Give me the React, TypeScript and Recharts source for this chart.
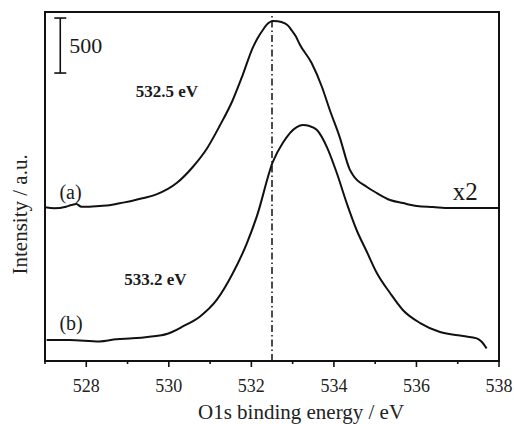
import React from "react";
import {
  LineChart,
  Line,
  XAxis,
  YAxis,
  ReferenceArea,
  ReferenceLine,
  ReferenceDot,
} from "recharts";

// O1s spectrum (a): binding energy (eV) and intensity (counts, offset)
const ENERGY_A = [
  527.0, 527.23, 527.51, 527.64, 527.76, 527.88, 528.08, 528.32, 528.56, 528.81,
  529.12, 529.36, 529.7, 530.19, 530.58, 530.92, 531.23, 531.55, 531.79, 532.03,
  532.15, 532.27, 532.4, 532.52, 532.64, 532.81, 532.9, 532.98, 533.08, 533.17,
  533.46, 533.71, 533.9, 534.14, 534.38, 534.46, 534.8, 535.04, 535.36, 535.67,
  536.01, 536.4, 536.81, 537.47, 537.98,
];
const INTENSITY_A = [
  1397, 1388, 1403, 1418, 1427, 1403, 1403, 1409, 1415, 1434,
  1457, 1479, 1515, 1618, 1764, 1930, 2136, 2373, 2600, 2845,
  2935, 3005, 3068, 3092, 3090, 3070, 3045, 3005, 2950, 2880,
  2709, 2491, 2282, 2036, 1745, 1691, 1582, 1527, 1464, 1436,
  1409, 1400, 1391, 1391, 1391,
];

// O1s spectrum (b)
const ENERGY_B = [
  527.04, 527.59, 528.32, 528.73, 529.12, 529.53, 529.95, 530.09, 530.33, 530.75,
  531.16, 531.55, 531.89, 532.13, 532.52, 532.76, 533.1, 533.25, 533.41, 533.59,
  533.83, 534.07, 534.31, 534.55, 534.8, 535.04, 535.36, 535.67, 536.09, 536.57,
  537.13, 537.46, 537.58, 537.7,
];
const INTENSITY_B = [
  191, 191, 178, 198, 206, 221, 245, 266, 312, 403,
  555, 797, 1070, 1312, 1810, 1982, 2127, 2145, 2136, 2100,
  1945, 1709, 1436, 1191, 991, 800, 618, 464, 345, 264,
  227, 206, 175, 115,
];

const X_TICKS = [527, 528, 529, 530, 531, 532, 533, 534, 535, 536, 537, 538];
const X_DOMAIN: [number, number] = [527, 538];
const Y_MAX = 3173;

// Peak position marked by the dash-dot line
const PEAK_A = 532.5;

// Intensity scale bar (500 counts)
const SCALE_BAR_X = 527.37;
const SCALE_BAR_FROM = 2618;
const SCALE_BAR_SIZE = 500;
const SCALE_CAP_HALF = 0.145;

// Text annotations: [text, energy, intensity, fontSize, bold]
const NOTES: [string, number, number, number, boolean][] = [
  ["500", 527.59, 2800, 22, false],
  ["532.5 eV", 529.2, 2400, 17, true],
  ["533.2 eV", 528.92, 691, 17, true],
  ["(a)", 527.35, 1475, 20, false],
  ["(b)", 527.35, 282, 20, false],
  ["x2", 536.88, 1464, 25, false],
];

const FONT = "'Liberation Serif', 'Times New Roman', serif";
const INK = "#111";

const seriesA = ENERGY_A.map((e, i) => ({ e, v: INTENSITY_A[i] }));
const seriesB = ENERGY_B.map((e, i) => ({ e, v: INTENSITY_B[i] }));

function Tick(props: any) {
  const { x, y, payload } = props;
  const major = payload.value % 2 === 0;
  return (
    <g>
      <line x1={x} x2={x} y1={y} y2={y + (major ? 6 : 3)} stroke={INK} strokeWidth={1.6} />
      {major && (
        <text x={x} y={y + 31} textAnchor="middle" fontFamily={FONT} fontSize={18} fill="#222">
          {payload.value}
        </text>
      )}
    </g>
  );
}

function XTitle(props: any) {
  const vb = props.viewBox;
  return (
    <text
      x={vb.x + vb.width * 0.564}
      y={vb.y + 58}
      textAnchor="middle"
      fontFamily={FONT}
      fontSize={21}
      fill="#222"
    >
      O1s binding energy / eV
    </text>
  );
}

function YTitle(props: any) {
  const vb = props.viewBox;
  const cx = 27;
  const cy = vb.y + vb.height * 0.58;
  return (
    <text
      x={cx}
      y={cy}
      transform={`rotate(-90 ${cx} ${cy})`}
      textAnchor="middle"
      fontFamily={FONT}
      fontSize={21}
      fill="#222"
    >
      Intensity / a.u.
    </text>
  );
}

function noteLabel(text: string, size: number, bold: boolean) {
  return (p: any) => {
    const vb = p.viewBox;
    return (
      <text
        x={vb.x}
        y={vb.y}
        fontFamily={FONT}
        fontSize={size}
        fontWeight={bold ? 700 : 400}
        fill="#1a1a1a"
      >
        {text}
      </text>
    );
  };
}

export default function App() {
  return (
    <div style={{ position: "absolute", left: 0, top: 0, background: "#fff" }}>
      <LineChart
        width={514}
        height={424}
        margin={{ top: 12, right: 15, bottom: 23, left: 0 }}
      >
        <XAxis
          type="number"
          dataKey="e"
          domain={X_DOMAIN}
          ticks={X_TICKS}
          interval={0}
          allowDataOverflow
          tickSize={0}
          tickMargin={0}
          axisLine={false}
          tickLine={false}
          height={40}
          tick={<Tick />}
          label={<XTitle />}
        />
        <YAxis
          type="number"
          domain={[0, Y_MAX]}
          allowDataOverflow
          width={45}
          tick={false}
          axisLine={false}
          tickLine={false}
          label={<YTitle />}
        />
        <ReferenceArea
          x1={X_DOMAIN[0]}
          x2={X_DOMAIN[1]}
          y1={0}
          y2={Y_MAX}
          fill="none"
          fillOpacity={0}
          stroke={INK}
          strokeWidth={2}
        />
        <ReferenceLine
          x={PEAK_A}
          stroke={INK}
          strokeWidth={1.5}
          strokeDasharray="7 3 1.5 3"
        />
        <ReferenceLine
          segment={[
            { x: SCALE_BAR_X, y: SCALE_BAR_FROM },
            { x: SCALE_BAR_X, y: SCALE_BAR_FROM + SCALE_BAR_SIZE },
          ]}
          stroke={INK}
          strokeWidth={1.6}
        />
        <ReferenceLine
          segment={[
            { x: SCALE_BAR_X - SCALE_CAP_HALF, y: SCALE_BAR_FROM },
            { x: SCALE_BAR_X + SCALE_CAP_HALF, y: SCALE_BAR_FROM },
          ]}
          stroke={INK}
          strokeWidth={1.6}
        />
        <ReferenceLine
          segment={[
            { x: SCALE_BAR_X - SCALE_CAP_HALF, y: SCALE_BAR_FROM + SCALE_BAR_SIZE },
            { x: SCALE_BAR_X + SCALE_CAP_HALF, y: SCALE_BAR_FROM + SCALE_BAR_SIZE },
          ]}
          stroke={INK}
          strokeWidth={1.6}
        />
        <Line
          data={seriesA}
          dataKey="v"
          type="monotone"
          dot={false}
          stroke={INK}
          strokeWidth={2}
          isAnimationActive={false}
        />
        <Line
          data={seriesB}
          dataKey="v"
          type="monotone"
          dot={false}
          stroke={INK}
          strokeWidth={2}
          isAnimationActive={false}
        />
        {NOTES.map(([text, e, v, size, bold]) => (
          <ReferenceDot
            key={text}
            x={e}
            y={v}
            r={0}
            fill="none"
            stroke="none"
            label={noteLabel(text, size, bold)}
          />
        ))}
      </LineChart>
    </div>
  );
}
